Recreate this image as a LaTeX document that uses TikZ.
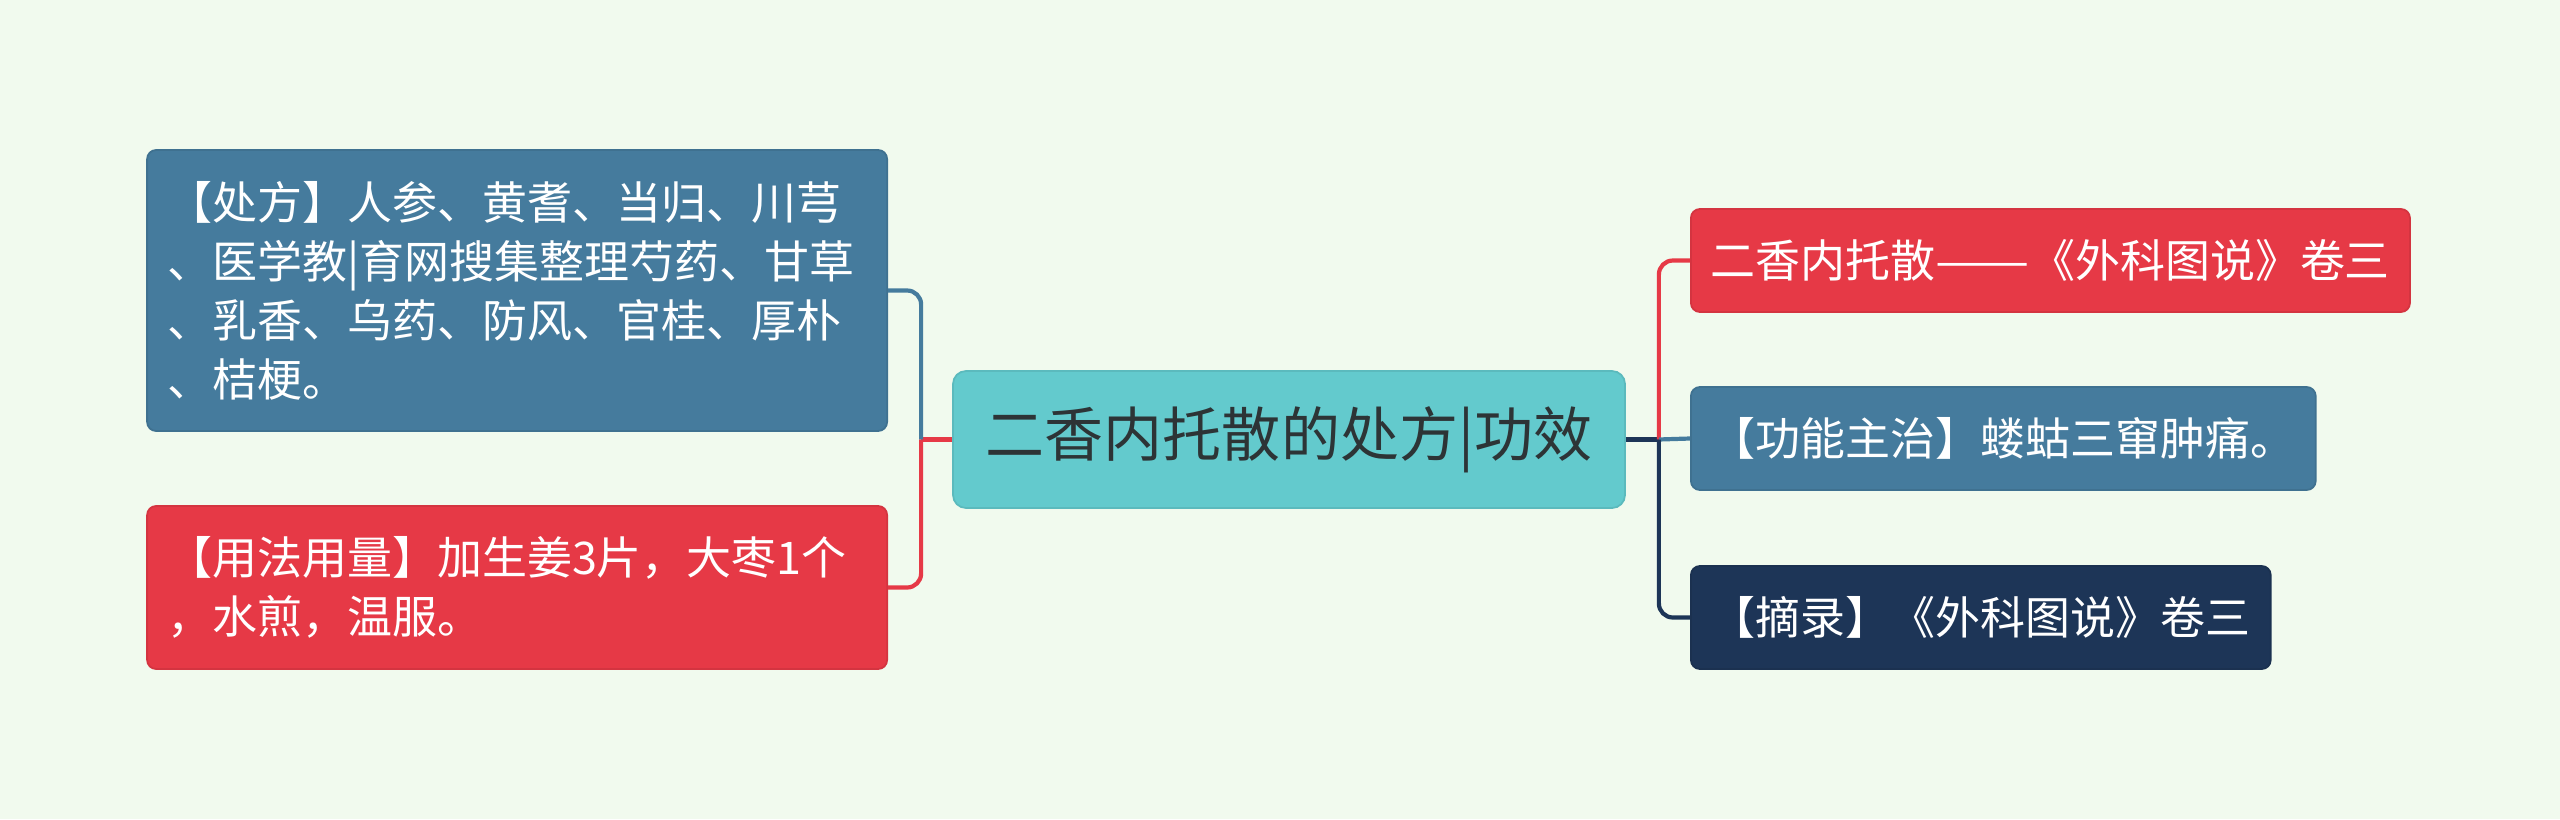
\documentclass[tikz,border=0pt]{standalone}
\usepackage{fontspec}
\setmainfont{Noto Sans CJK SC}
\usetikzlibrary{positioning, calc}
\definecolor{cbg}{HTML}{F1FAEE}
\definecolor{cred}{HTML}{E63946}
\definecolor{cblue}{HTML}{457B9D}
\definecolor{cnavy}{HTML}{1D3557}
\definecolor{cteal}{HTML}{63CACD}
\definecolor{cink}{HTML}{2D3436}
\tikzset{
  leaf/.style={fill=#1, draw=#1!92!black, line width=0.5pt, rounded corners=0.09cm, text=white, inner xsep=0.2cm, inner ysep=0pt, minimum height=1.03cm, font=\fontsize{12.8}{16.8}\selectfont},
  leaf/.default=cblue,
  link/.style={draw=#1, line width=0.042cm, rounded corners=0.14cm},
  link/.default=cnavy,
}

\begin{document}
\begin{tikzpicture}[
    root/.style={fill=cteal, draw=cteal!92!black, line width=0.5pt, rounded corners=0.13cm, text=cink, minimum width=6.72cm, minimum height=1.37cm, font=\fontsize{16.8}{20}\selectfont},
    note/.style={leaf=#1, text width=7.0cm, align=left, anchor=east},
    side/.style={leaf=#1, anchor=west},
  ]
  \fill[cbg] (0,0) rectangle (25.6,8.19);

  % centre
  \node[root] (ctr) at (12.89,3.795) {二香内托散的处方|功效};

  % left side
  \node[note=cblue, minimum height=2.81cm] (rx) at (8.88,5.285) {【处方】人参、黄耆、当归、川芎\\、医学教|育网搜集整理芍药、甘草\\、乳香、乌药、防风、官桂、厚朴\\、桔梗。};
  \node[note=cred, minimum height=1.63cm] (dose) at (8.88,2.315) {【用法用量】加生姜3片，大枣1个\\，水煎，温服。};

  % right side
  \node[side=cred] (name) at (16.9,5.585) {二香内托散\scalebox{1.25}[1]{——}《外科图说》卷三};
  \node[side=cblue] (use) at (16.9,3.805) {【功能主治】蝼蛄三窜肿痛。};
  \node[side=cnavy] (src) at (16.9,2.015) {【摘录】《外科图说》卷三};

  \coordinate (lj) at ($(ctr.west)+(-0.31,0)$);
  \coordinate (rj) at ($(ctr.east)+(0.33,0)$);
  \draw[link=cred] (ctr.west) -- (lj);
  \draw[link=cblue] (lj) |- (rx.east);
  \draw[link=cred] (lj) |- (dose.east);
  \draw[link=cnavy] (ctr.east) -- (rj);
  \draw[link=cred] (rj) |- (name.west);
  \draw[link=cblue] (rj) -- (use.west);
  \draw[link=cnavy] (rj) |- (src.west);
\end{tikzpicture}
\end{document}
